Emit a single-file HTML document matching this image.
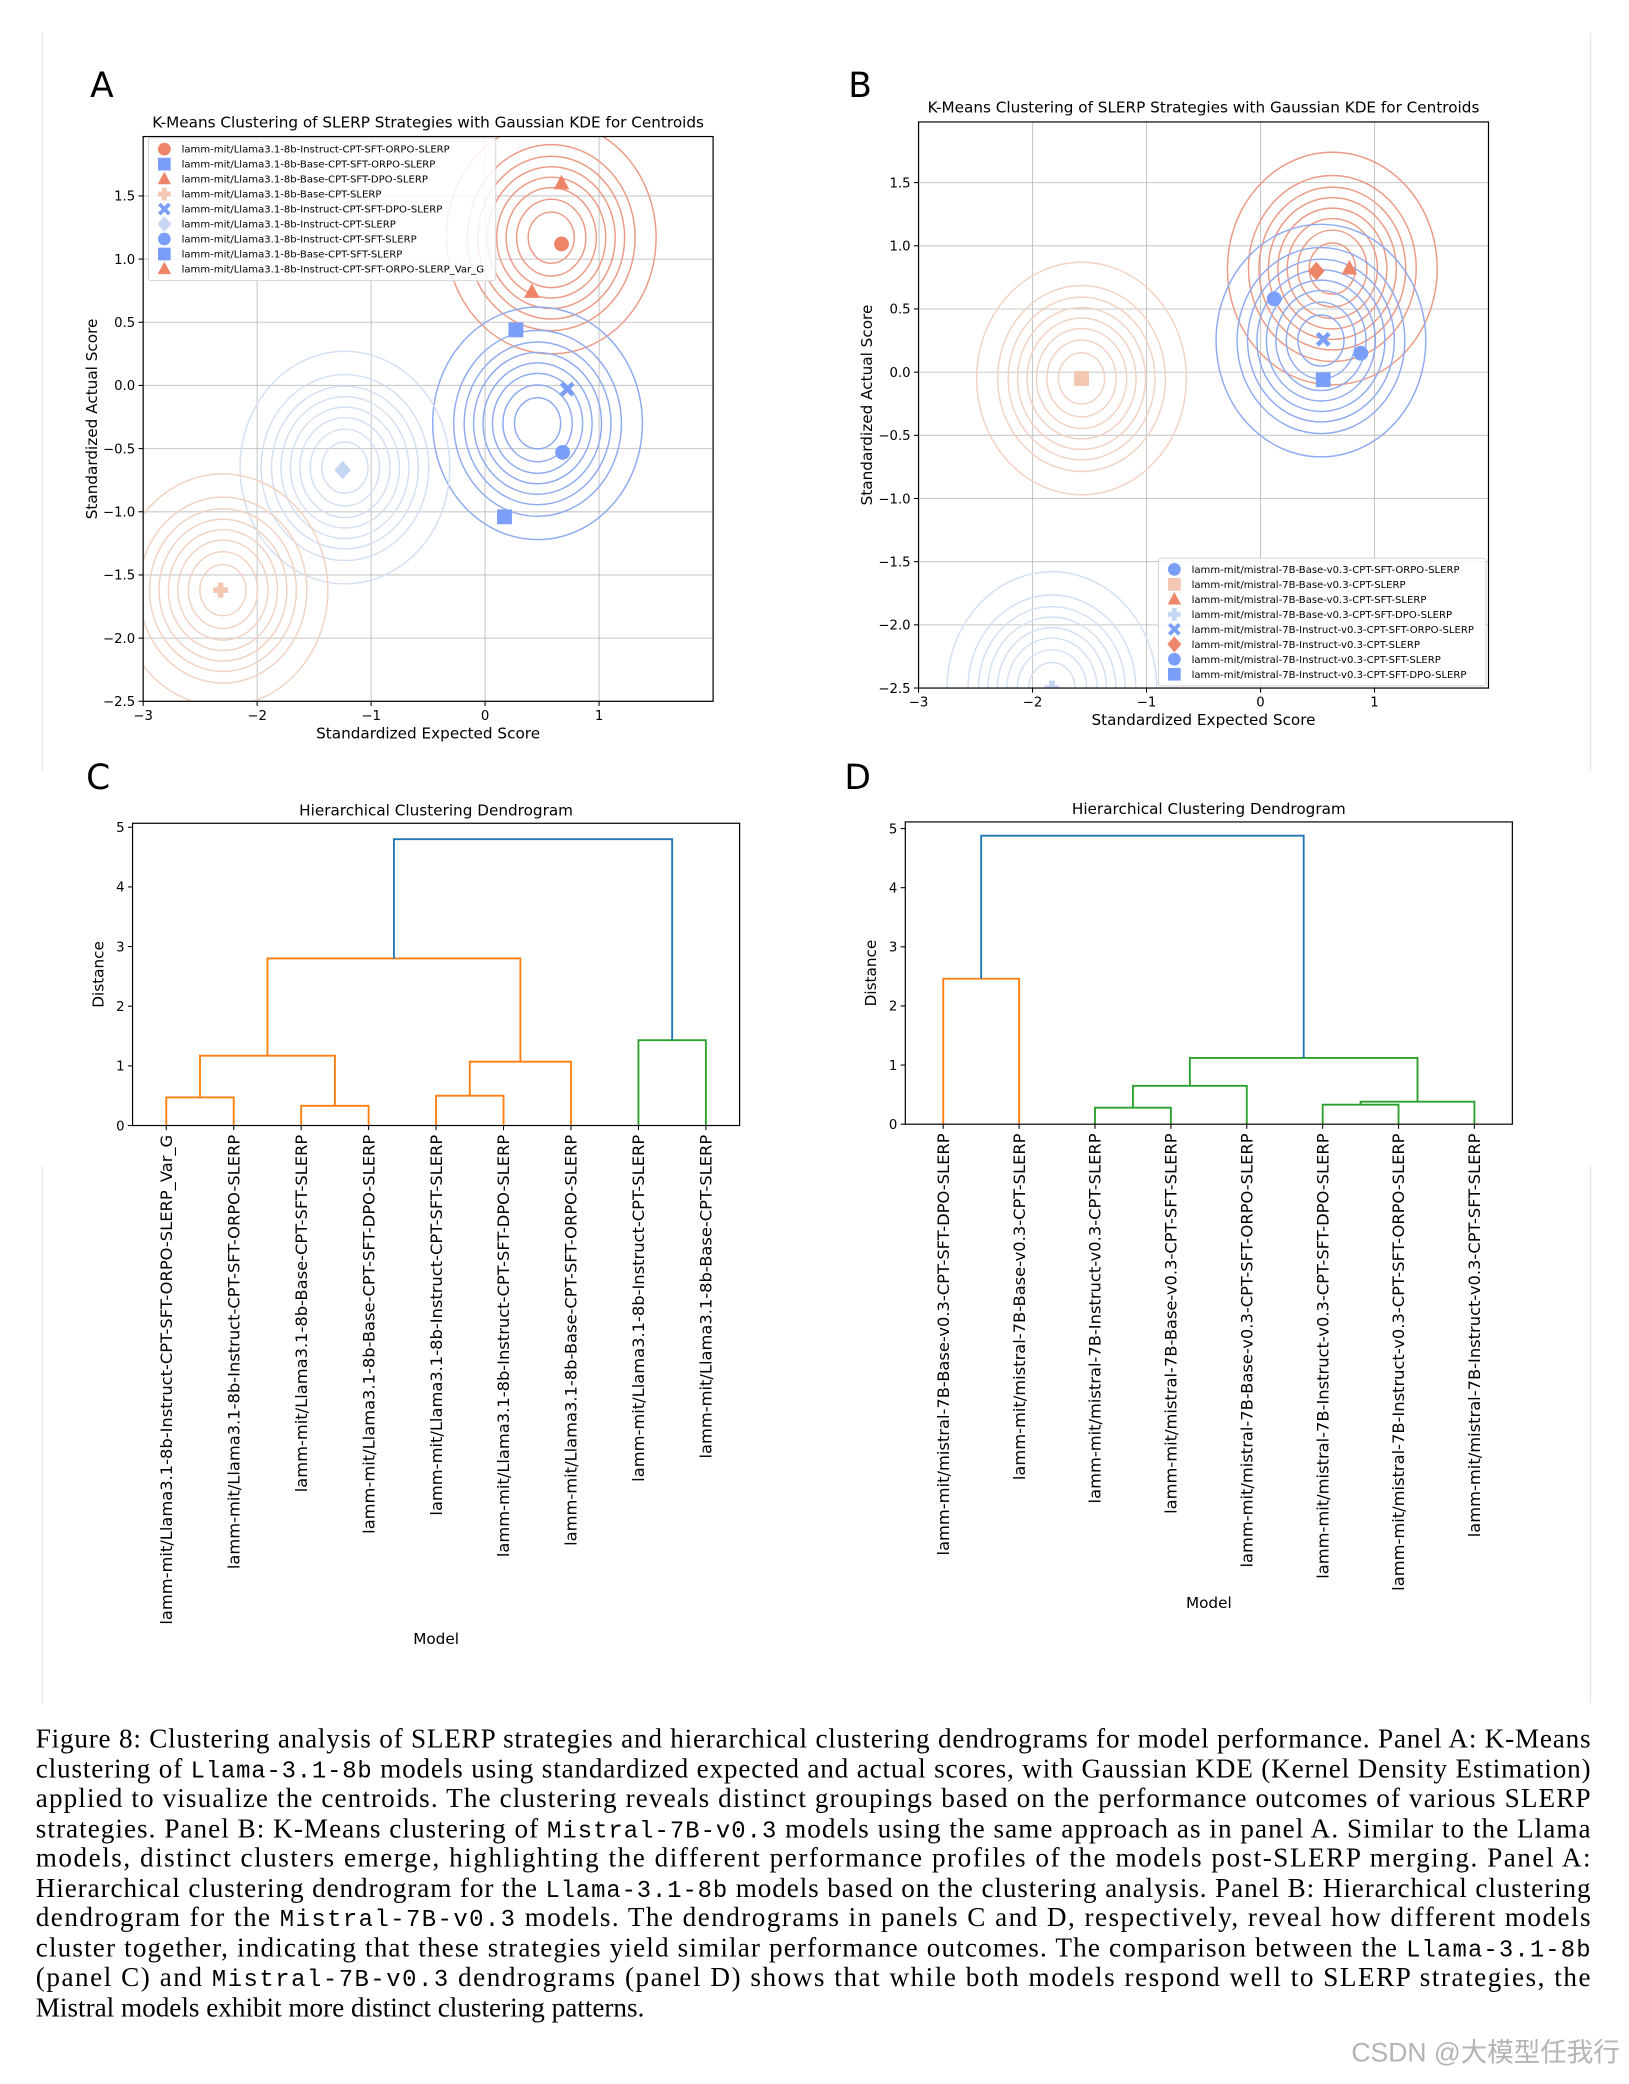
<!DOCTYPE html>
<html><head><meta charset="utf-8">
<style>
html,body{margin:0;padding:0;background:#fff;}
svg{display:block;}
.tk{font-family:"DejaVu Sans","Liberation Sans",sans-serif;font-size:10px;fill:#000;}
.lb{font-family:"DejaVu Sans","Liberation Sans",sans-serif;font-size:11.5px;fill:#000;}
.leaf{font-family:"DejaVu Sans","Liberation Sans",sans-serif;font-size:12.3px;fill:#000;}
.lg{font-family:"DejaVu Sans","Liberation Sans",sans-serif;font-size:7.6px;fill:#000;}
.cap{font-family:"Liberation Serif",serif;font-size:20.5px;fill:#000;}
.mono{font-family:"Liberation Mono",monospace;font-size:18px;}
</style></head>
<body>
<svg id="fig" width="1629" height="2084" viewBox="0 0 1229 1572" preserveAspectRatio="none" xmlns="http://www.w3.org/2000/svg">
<defs>
<clipPath id="clipA"><rect x="108" y="103" width="430" height="426"/></clipPath>
<clipPath id="clipB"><rect x="693" y="92" width="430" height="427"/></clipPath>
</defs>
<line x1="32" y1="25" x2="32" y2="582" stroke="#e6e6e6" stroke-width="1"/>
<line x1="1200" y1="25" x2="1200" y2="582" stroke="#e6e6e6" stroke-width="1"/>
<line x1="32" y1="880" x2="32" y2="1285" stroke="#e6e6e6" stroke-width="1"/>
<line x1="1200" y1="880" x2="1200" y2="1285" stroke="#e6e6e6" stroke-width="1"/>
<g id="root"></g>
<g id="caption">
<text class="cap" x="27" y="1318" textLength="1173" lengthAdjust="spacing">Figure 8: Clustering analysis of SLERP strategies and hierarchical clustering dendrograms for model performance. Panel A: K-Means</text>
<text class="cap" x="27" y="1341" textLength="1173" lengthAdjust="spacing">clustering of <tspan class="mono">Llama-3.1-8b</tspan> models using standardized expected and actual scores, with Gaussian KDE (Kernel Density Estimation)</text>
<text class="cap" x="27" y="1363" textLength="1173" lengthAdjust="spacing">applied to visualize the centroids. The clustering reveals distinct groupings based on the performance outcomes of various SLERP</text>
<text class="cap" x="27" y="1386" textLength="1173" lengthAdjust="spacing">strategies. Panel B: K-Means clustering of <tspan class="mono">Mistral-7B-v0.3</tspan> models using the same approach as in panel A. Similar to the Llama</text>
<text class="cap" x="27" y="1408" textLength="1173" lengthAdjust="spacing">models, distinct clusters emerge, highlighting the different performance profiles of the models post-SLERP merging. Panel A:</text>
<text class="cap" x="27" y="1431" textLength="1173" lengthAdjust="spacing">Hierarchical clustering dendrogram for the <tspan class="mono">Llama-3.1-8b</tspan> models based on the clustering analysis. Panel B: Hierarchical clustering</text>
<text class="cap" x="27" y="1453" textLength="1173" lengthAdjust="spacing">dendrogram for the <tspan class="mono">Mistral-7B-v0.3</tspan> models. The dendrograms in panels C and D, respectively, reveal how different models</text>
<text class="cap" x="27" y="1476" textLength="1173" lengthAdjust="spacing">cluster together, indicating that these strategies yield similar performance outcomes. The comparison between the <tspan class="mono">Llama-3.1-8b</tspan></text>
<text class="cap" x="27" y="1498" textLength="1173" lengthAdjust="spacing">(panel C) and <tspan class="mono">Mistral-7B-v0.3</tspan> dendrograms (panel D) shows that while both models respond well to SLERP strategies, the</text>
<text class="cap" x="27" y="1521">Mistral models exhibit more distinct clustering patterns.</text>
</g>
<text x="1222" y="1555" text-anchor="end" style="font-family:'Liberation Sans','Noto Sans CJK SC',sans-serif;font-size:20px;fill:#b4b4b4">CSDN @大模型任我行</text>
</svg>
<script>
// ---------- Panel A data ----------
const aLabels = ["lamm-mit/Llama3.1-8b-Instruct-CPT-SFT-ORPO-SLERP","lamm-mit/Llama3.1-8b-Base-CPT-SFT-ORPO-SLERP","lamm-mit/Llama3.1-8b-Base-CPT-SFT-DPO-SLERP","lamm-mit/Llama3.1-8b-Base-CPT-SLERP","lamm-mit/Llama3.1-8b-Instruct-CPT-SFT-DPO-SLERP","lamm-mit/Llama3.1-8b-Instruct-CPT-SLERP","lamm-mit/Llama3.1-8b-Instruct-CPT-SFT-SLERP","lamm-mit/Llama3.1-8b-Base-CPT-SFT-SLERP","lamm-mit/Llama3.1-8b-Instruct-CPT-SFT-ORPO-SLERP_Var_G"];
const aX = [0.67,0.27,0.67,-2.32,0.72,-1.25,0.68,0.17,0.41];
const aY = [1.12,0.44,1.60,-1.62,-0.03,-0.67,-0.53,-1.04,0.74];
const aMarkers = ["circle","square","triangle","plus","x","diamond","circle","square","triangle"];
const aCluster = [0,1,0,3,1,2,1,1,0];
const aCentX = [0.58,0.46,-1.23,-2.30];
const aCentY = [1.17,-0.30,-0.65,-1.62];
// ---------- Panel B data ----------
const bLabels = ["lamm-mit/mistral-7B-Base-v0.3-CPT-SFT-ORPO-SLERP","lamm-mit/mistral-7B-Base-v0.3-CPT-SLERP","lamm-mit/mistral-7B-Base-v0.3-CPT-SFT-SLERP","lamm-mit/mistral-7B-Base-v0.3-CPT-SFT-DPO-SLERP","lamm-mit/mistral-7B-Instruct-v0.3-CPT-SFT-ORPO-SLERP","lamm-mit/mistral-7B-Instruct-v0.3-CPT-SLERP","lamm-mit/mistral-7B-Instruct-v0.3-CPT-SFT-SLERP","lamm-mit/mistral-7B-Instruct-v0.3-CPT-SFT-DPO-SLERP"];
const bX = [0.12,-1.57,0.78,-1.83,0.55,0.49,0.88,0.55];
const bY = [0.58,-0.05,0.82,-2.50,0.26,0.80,0.15,-0.06];
const bMarkers = ["circle","square","triangle","plus","x","diamond","circle","square"];
const bCluster = [1,3,0,2,1,0,1,1];
const bCentX = [0.63,0.53,-1.83,-1.57];
const bCentY = [0.82,0.25,-2.50,-0.05];
const xTicks = [-3,-2,-1,0,1];
const yTicks = [-2.5,-2.0,-1.5,-1.0,-0.5,0.0,0.5,1.0,1.5];
const yTickLabels = ["\u22122.5","\u22122.0","\u22121.5","\u22121.0","\u22120.5","0.0","0.5","1.0","1.5"];
const xTickLabels = ["\u22123","\u22122","\u22121","0","1"];
// ---------- Dendrogram C data ----------
const cLeaves = ["lamm-mit/Llama3.1-8b-Instruct-CPT-SFT-ORPO-SLERP_Var_G","lamm-mit/Llama3.1-8b-Instruct-CPT-SFT-ORPO-SLERP","lamm-mit/Llama3.1-8b-Base-CPT-SFT-SLERP","lamm-mit/Llama3.1-8b-Base-CPT-SFT-DPO-SLERP","lamm-mit/Llama3.1-8b-Instruct-CPT-SFT-SLERP","lamm-mit/Llama3.1-8b-Instruct-CPT-SFT-DPO-SLERP","lamm-mit/Llama3.1-8b-Base-CPT-SFT-ORPO-SLERP","lamm-mit/Llama3.1-8b-Instruct-CPT-SLERP","lamm-mit/Llama3.1-8b-Base-CPT-SLERP"];
const cLeft = [0,2,0.5,4,4.5,1.5,7,3.375];
const cLeftH = [0,0,0.47,0,0.50,1.17,0,2.80];
const cRight = [1,3,2.5,5,6,5.25,8,7.5];
const cRightH = [0,0,0.33,0,0,1.07,0,1.43];
const cHeight = [0.47,0.33,1.17,0.50,1.07,2.80,1.43,4.80];
const cColor = ["o","o","o","o","o","o","g","b"];
// ---------- Dendrogram D data ----------
const dLeaves = ["lamm-mit/mistral-7B-Base-v0.3-CPT-SFT-DPO-SLERP","lamm-mit/mistral-7B-Base-v0.3-CPT-SLERP","lamm-mit/mistral-7B-Instruct-v0.3-CPT-SLERP","lamm-mit/mistral-7B-Base-v0.3-CPT-SFT-SLERP","lamm-mit/mistral-7B-Base-v0.3-CPT-SFT-ORPO-SLERP","lamm-mit/mistral-7B-Instruct-v0.3-CPT-SFT-DPO-SLERP","lamm-mit/mistral-7B-Instruct-v0.3-CPT-SFT-ORPO-SLERP","lamm-mit/mistral-7B-Instruct-v0.3-CPT-SFT-SLERP"];
const dLeft = [0,2,2.5,5,5.5,3.25,0.5];
const dLeftH = [0,0,0.28,0,0.33,0.65,2.46];
const dRight = [1,3,4,6,7,6.25,4.75];
const dRightH = [0,0,0,0,0,0.38,1.12];
const dHeight = [2.46,0.28,0.65,0.33,0.38,1.12,4.88];
const dColor = ["o","g","g","g","g","g","b"];
const dTicks = [0,1,2,3,4,5];

const NS="http://www.w3.org/2000/svg";
const root=document.getElementById('root');
function mk(tag,attrs,parent){const e=document.createElementNS(NS,tag);for(const k in attrs)e.setAttribute(k,attrs[k]);(parent||root).appendChild(e);return e;}
function txt(str,attrs,parent){const e=mk('text',attrs,parent);e.textContent=str;return e;}

const markerColor=["#ee8468","#7b9ff9","#c5d6f2","#f3c7b1"];
const ringColor=["#ec9a83","#8eaaf0","#d3e0f3","#f2d2c1"];
const ringScale=[0.22,0.33,0.43,0.52,0.61,0.70,0.80,1.0];

function drawMarker(g,type,cx,cy,color,s){
  let e;
  if(type==="circle"){e=mk('circle',{cx:cx,cy:cy,r:s},g);}
  else if(type==="square"){e=mk('rect',{x:cx-s,y:cy-s,width:2*s,height:2*s},g);}
  else if(type==="triangle"){e=mk('polygon',{points:`${cx},${cy-s*1.15} ${cx-s*1.05},${cy+s*0.8} ${cx+s*1.05},${cy+s*0.8}`},g);}
  else if(type==="diamond"){e=mk('polygon',{points:`${cx},${cy-s*1.25} ${cx+s*1.1},${cy} ${cx},${cy+s*1.25} ${cx-s*1.1},${cy}`},g);}
  else if(type==="plus"){const w=s*0.38;e=mk('path',{d:`M${cx-w},${cy-s}H${cx+w}V${cy-w}H${cx+s}V${cy+w}H${cx+w}V${cy+s}H${cx-w}V${cy+w}H${cx-s}V${cy-w}H${cx-w}Z`},g);}
  else {const w=s*0.3,L=s;e=mk('path',{d:`M${cx-L},${cy-L+w*1.4}L${cx-L+w*1.4},${cy-L}L${cx},${cy-w*1.4}L${cx+L-w*1.4},${cy-L}L${cx+L},${cy-L+w*1.4}L${cx+w*1.4},${cy}L${cx+L},${cy+L-w*1.4}L${cx+L-w*1.4},${cy+L}L${cx},${cy+w*1.4}L${cx-L+w*1.4},${cy+L}L${cx-L},${cy+L-w*1.4}L${cx-w*1.4},${cy}Z`},g);}
  e.setAttribute('fill',color);
  return e;
}

function scatterPanel(o){
  const g=mk('g',{});
  
  
  const L=o.L,R=o.R,T=o.T,B=o.B;
  const sx=v=>L+(v-(-3))*(R-L)/(o.xmax+3);
  const sy=v=>B-(v-(-2.5))*(B-T)/(o.ymax+2.5);
  xTicks.forEach((t,i)=>{
    const gl=mk('line',{x1:sx(t),x2:sx(t),y1:T,y2:B,stroke:'#b0b0b0','stroke-width':0.8,'stroke-opacity':0.7},g);
    
    mk('line',{x1:sx(t),x2:sx(t),y1:B,y2:B+3.5,stroke:'#000','stroke-width':0.8},g);
    const tl=txt(xTickLabels[i],{x:sx(t),y:B+14,'text-anchor':'middle',class:'tk'},g);
    
  });
  yTicks.forEach((t,i)=>{
    const gl=mk('line',{x1:L,x2:R,y1:sy(t),y2:sy(t),stroke:'#b0b0b0','stroke-width':0.8,'stroke-opacity':0.7},g);
    
    mk('line',{x1:L-3.5,x2:L,y1:sy(t),y2:sy(t),stroke:'#000','stroke-width':0.8},g);
    const tl=txt(yTickLabels[i],{x:L-6,y:sy(t)+3.6,'text-anchor':'end',class:'tk'},g);
    
  });
  const kg=mk('g',{'clip-path':`url(#${o.clip})`},g);
  o.cx.forEach((c,k)=>{
    ringScale.forEach(s=>{
      const el=mk('ellipse',{cx:sx(c),cy:sy(o.cy[k]),rx:0.92*s*(R-L)/(o.xmax+3),ry:0.92*s*(B-T)/(o.ymax+2.5),fill:'none',stroke:ringColor[k],'stroke-width':1.1},kg);
      
      
    });
  });
  const pg=mk('g',{'clip-path':`url(#${o.clip})`},g);
  o.x.forEach((v,i)=>{
    const m=drawMarker(pg,o.markers[i],sx(v),sy(o.y[i]),markerColor[o.cluster[i]],5.6);
    
    
  });
  const fr=mk('rect',{x:L,y:T,width:R-L,height:B-T,fill:'none',stroke:'#000','stroke-width':0.9},g);
  
  const ti=txt("K-Means Clustering of SLERP Strategies with Gaussian KDE for Centroids",{x:(L+R)/2,y:T-7,'text-anchor':'middle',class:'lb'},g);
  
  const xl=txt("Standardized Expected Score",{x:(L+R)/2,y:B+28,'text-anchor':'middle',class:'lb'},g);
  
  const yl=txt("Standardized Actual Score",{x:0,y:0,'text-anchor':'middle',class:'lb',transform:`translate(${L-35},${(T+B)/2}) rotate(-90)`},g);
  
  const lg=mk('g',{},g);
  
  mk('rect',{x:o.lx,y:o.ly,width:o.lw,height:o.labels.length*11.3+6,fill:'#fff','fill-opacity':0.85,stroke:'#d6d6d6','stroke-width':0.8,rx:2},lg);
  o.labels.forEach((s,i)=>{
    const yy=o.ly+8.5+i*11.3;
    const m=drawMarker(lg,o.markers[i],o.lx+12,yy,markerColor[o.cluster[i]],4.8);
    
    const t=txt(s,{x:o.lx+25,y:yy+2.7,class:'lg'},lg);
    
  });
  const pl=txt(o.letter,{x:o.letterX,y:o.letterY,style:'font-family:"DejaVu Sans",sans-serif;font-size:26px'},g);
  
}

scatterPanel({name:'panel-a-scatter',L:108,R:538,T:103,B:529,xmax:2.0,ymax:1.97,clip:'clipA',x:aX,y:aY,markers:aMarkers,cluster:aCluster,cx:aCentX,cy:aCentY,labels:aLabels,lx:112,ly:104,lw:262,letter:'A',letterX:68,letterY:73});
scatterPanel({name:'panel-b-scatter',L:693,R:1123,T:92,B:519,xmax:2.0,ymax:1.98,clip:'clipB',x:bX,y:bY,markers:bMarkers,cluster:bCluster,cx:bCentX,cy:bCentY,labels:bLabels,lx:874,ly:421,lw:247,letter:'B',letterX:640,letterY:73});

const dcol={o:'#ff7f0e',g:'#2ca02c',b:'#1f77b4'};
function dendro(o){
  const g=mk('g',{});
  
  
  const L=o.L,R=o.R,T=o.T,B=o.B,n=o.leaves.length;
  const sx=p=>L+(5+10*p)*(R-L)/(10*n);
  const sy=h=>B-h*o.yu;
  dTicks.forEach(t=>{
    mk('line',{x1:L-3.5,x2:L,y1:sy(t),y2:sy(t),stroke:'#000','stroke-width':0.8},g);
    const tl=txt(String(t),{x:L-6,y:sy(t)+3.6,'text-anchor':'end',class:'tk'},g);
    
  });
  o.left.forEach((lp,i)=>{
    const x1=sx(lp),x2=sx(o.right[i]),h=sy(o.height[i]);
    const p=mk('path',{d:`M${x1},${sy(o.leftH[i])}V${h}H${x2}V${sy(o.rightH[i])}`,fill:'none',stroke:dcol[o.color[i]],'stroke-width':1.4},g);
    
    
  });
  o.leaves.forEach((s,i)=>{
    mk('line',{x1:sx(i),x2:sx(i),y1:B,y2:B+3.5,stroke:'#000','stroke-width':0.8},g);
    const t=txt(s,{x:0,y:0,'text-anchor':'end',class:'leaf',transform:`translate(${sx(i)+4.3},${B+7}) rotate(-90)`},g);
    
    
  });
  const fr=mk('rect',{x:L,y:T,width:R-L,height:B-T,fill:'none',stroke:'#000','stroke-width':0.9},g);
  
  const ti=txt("Hierarchical Clustering Dendrogram",{x:(L+R)/2,y:T-6,'text-anchor':'middle',class:'lb'},g);
  
  const xl=txt("Model",{x:(L+R)/2,y:o.xlY,'text-anchor':'middle',class:'lb'},g);
  
  const yl=txt("Distance",{x:0,y:0,'text-anchor':'middle',class:'lb',transform:`translate(${L-22},${(T+B)/2}) rotate(-90)`},g);
  
  const pl=txt(o.letter,{x:o.letterX,y:o.letterY,style:'font-family:"DejaVu Sans",sans-serif;font-size:26px'},g);
  
}
dendro({name:'panel-c-dendrogram',L:100,R:558,T:621,B:849,yu:45,leaves:cLeaves,left:cLeft,leftH:cLeftH,right:cRight,rightH:cRightH,height:cHeight,color:cColor,xlY:1240,letter:'C',letterX:65,letterY:595});
dendro({name:'panel-d-dendrogram',L:683,R:1141,T:620,B:848,yu:44.6,leaves:dLeaves,left:dLeft,leftH:dLeftH,right:dRight,rightH:dRightH,height:dHeight,color:dColor,xlY:1213,letter:'D',letterX:637,letterY:595});
</script>
</body></html>
